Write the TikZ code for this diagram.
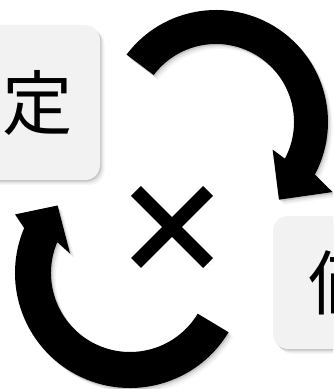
\documentclass[tikz,border=0pt]{standalone}
\usepackage{fontspec}
\newfontfamily\jpfont{Noto Sans CJK JP}
\usetikzlibrary{calc,shadows}

\begin{document}
\begin{tikzpicture}[
        x=0.3mm, y=0.3mm,
        soft shadow/.style={
            drop shadow={shadow xshift=0.4mm, shadow yshift=-0.5mm, opacity=0.12, fill=black},
            drop shadow={shadow xshift=0.9mm, shadow yshift=-1.0mm, opacity=0.07, fill=black},
            drop shadow={shadow xshift=1.4mm, shadow yshift=-1.5mm, opacity=0.04, fill=black}},
        card/.style={fill=black!5, rounded corners=4.5mm, inner sep=0pt,
            font=\jpfont\fontsize{60}{60}\selectfont, soft shadow},
        turnarrow/.style={fill=black, soft shadow},
        cross/.style={line width=4.2mm, black,
            preaction={draw=black, opacity=0.1, transform canvas={shift={(0.7mm,-0.8mm)}}}},
    ]
    \useasboundingbox (0,0) rectangle (333,389);
    \clip (0,0) rectangle (333,389);

    % Two cards, both cut off by the page edge
    \node[card, minimum width=37.2mm, minimum height=46.5mm] (setbox) at (38,286.5) {定};
    \node[card, minimum width=42.6mm, minimum height=39.9mm] (valbox) at (344,106.5) {価};

    % Upper arrow, turning clockwise onto the right card
    \coordinate (c1) at (216,267);
    \fill[turnarrow] ($(c1)+(143:112)$) arc[start angle=143, end angle=-28, radius=112]
        -- ($(c1)+(-31:136)$) -- ($(c1)+(-51:100)$) -- ($(c1)+(-26:63)$)
        -- ($(c1)+(-28:78)$) arc[start angle=-28, end angle=143, radius=78] -- cycle;

    % Lower arrow, turning clockwise back to the left card
    \coordinate (c2) at (130,116);
    \fill[turnarrow] ($(c2)+(-31:115)$) arc[start angle=-31, end angle=-203, radius=115]
        -- ($(c2)+(153:129)$) -- ($(c2)+(137:99)$) -- ($(c2)+(162:63)$)
        -- ($(c2)+(-203:79)$) arc[start angle=-203, end angle=-31, radius=79] -- cycle;

    % Times sign in the middle
    \draw[cross] (136,198) -- (208,126);
    \draw[cross] (208,198) -- (136,126);
\end{tikzpicture}
\end{document}
